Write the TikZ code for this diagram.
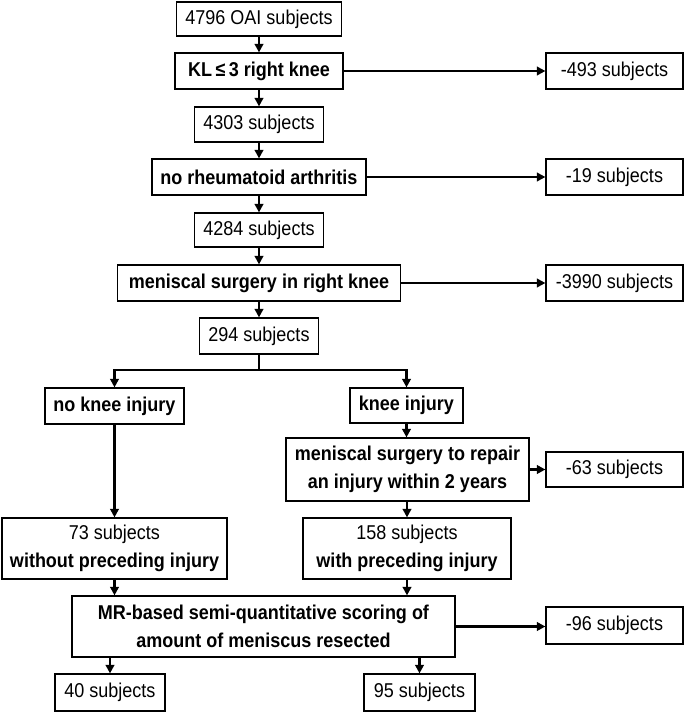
\documentclass[tikz,border=0pt]{standalone}
\usepackage{fontspec}
\setmainfont{Liberation Sans}[FakeStretch=0.9]
\usetikzlibrary{arrows.meta}
\begin{document}
\begin{tikzpicture}[x=1pt,y=-1pt,
  box/.style={draw, line width=1.2pt, inner sep=0pt, align=center, font=\fontsize{20}{28}\selectfont},
  conn/.style={line width=2.2pt},
  arr/.style={conn, -{Triangle[length=8.5pt,width=8.5pt]}}]
\useasboundingbox (0,0) rectangle (685,712);
% main column
\node[box, minimum width=165pt, minimum height=34pt] (b1) at (259,19) {4796 OAI subjects};
\node[box, minimum width=168pt, minimum height=36pt] (kl) at (259,71) {\textbf{KL\,≤\,3 right knee}};
\node[box, minimum width=137pt, minimum height=36pt] (e1) at (614.5,71) {-493 subjects};
\node[box, minimum width=129pt, minimum height=35pt] (b3) at (259,124.5) {4303 subjects};
\node[box, minimum width=214pt, minimum height=36pt] (ra) at (259,177) {\textbf{no rheumatoid arthritis}};
\node[box, minimum width=137pt, minimum height=36pt] (e2) at (614.5,177) {-19 subjects};
\node[box, minimum width=129pt, minimum height=34pt] (b5) at (259,230) {4284 subjects};
\node[box, minimum width=283pt, minimum height=36pt] (ms) at (259,283) {\textbf{meniscal surgery in right knee}};
\node[box, minimum width=137pt, minimum height=36pt] (e3) at (614.5,283) {-3990 subjects};
\node[box, minimum width=119pt, minimum height=36pt] (b7) at (259,336) {294 subjects};
% branches
\node[box, minimum width=139pt, minimum height=36pt] (nk) at (114.5,406) {\textbf{no knee injury}};
\node[box, minimum width=113pt, minimum height=35pt] (ki) at (406.5,405.5) {\textbf{knee injury}};
\node[box, minimum width=243pt, minimum height=63pt] (rep) at (407.5,469.5) {\textbf{meniscal surgery to repair}\\\textbf{an injury within 2 years}};
\node[box, minimum width=137pt, minimum height=35pt] (e4) at (614.5,469.5) {-63 subjects};
\node[box, minimum width=225pt, minimum height=61pt] (b73) at (114.5,548.5) {73 subjects\\\textbf{without preceding injury}};
\node[box, minimum width=208pt, minimum height=61pt] (b158) at (407,548.5) {158 subjects\\\textbf{with preceding injury}};
\node[box, minimum width=383pt, minimum height=61pt] (mr) at (263.5,626.5) {\textbf{MR-based semi-quantitative scoring of}\\\textbf{amount of meniscus resected}};
\node[box, minimum width=137pt, minimum height=37pt] (e5) at (614.5,625.5) {-96 subjects};
\node[box, minimum width=110pt, minimum height=37pt] (b40) at (110,692.5) {40 subjects};
\node[box, minimum width=111pt, minimum height=37pt] (b95) at (419.5,692.5) {95 subjects};
% main column connectors
\draw[arr] (b1) -- (kl);
\draw[arr] (kl) -- (b3);
\draw[arr] (b3) -- (ra);
\draw[arr] (ra) -- (b5);
\draw[arr] (b5) -- (ms);
\draw[arr] (ms) -- (b7);
% exclusions
\draw[arr] (kl.east) -- (e1.west);
\draw[arr] (ra.east) -- (e2.west);
\draw[arr] (ms.east) -- (e3.west);
\draw[arr] (rep.east) -- (e4.west);
\draw[arr] (mr.east) -- (mr.east -| e5.west);
% split
\coordinate (spl) at (114.5,370);
\coordinate (spr) at (406.5,370);
\draw[conn] (b7.south) -- (b7.south |- spl);
\draw[arr] (b7.south |- spl) -- (spl) -- (nk.north);
\draw[arr] (b7.south |- spl) -- (spr) -- (ki.north);
% branches
\draw[arr] (nk.south) -- (b73.north);
\draw[arr] (ki.south) -- (ki.south |- rep.north);
\draw[arr] (rep.south -| b158.north) -- (b158.north);
\draw[arr] (b73.south) -- (b73.south |- mr.north);
\draw[arr] (b158.south) -- (b158.south |- mr.north);
\draw[arr] (b40.north |- mr.south) -- (b40.north);
\draw[arr] (b95.north |- mr.south) -- (b95.north);
\end{tikzpicture}
\end{document}
